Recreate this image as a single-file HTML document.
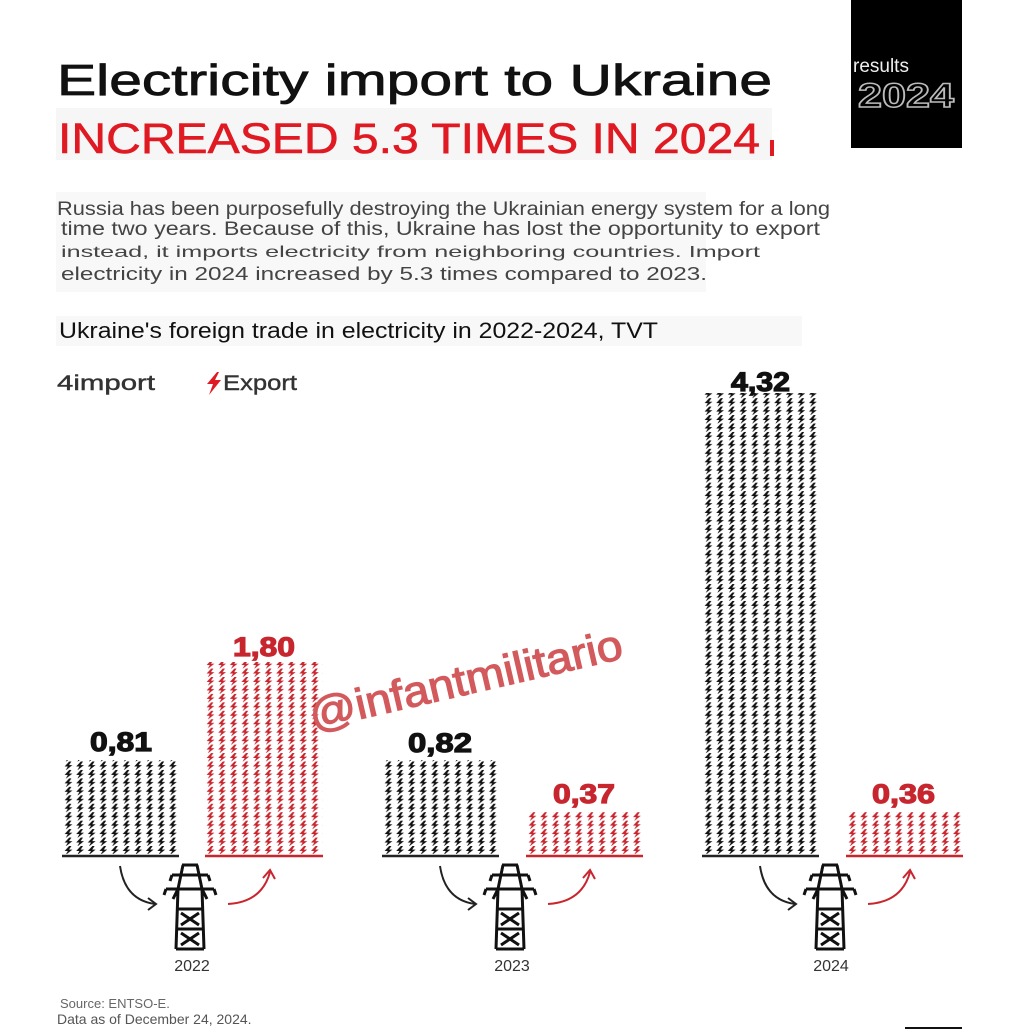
<!DOCTYPE html>
<html><head><meta charset="utf-8"><style>
html,body{margin:0;padding:0;background:#fff;}
svg{display:block;font-family:"Liberation Sans",sans-serif;}
</style></head><body>
<svg width="1024" height="1030" viewBox="0 0 1024 1030" xmlns="http://www.w3.org/2000/svg">
<defs>
<path id="bolt" d="M6.2,0 L1.6,5 L4.8,5 L2.6,9 L9.4,3.6 L6,3.6 L8.4,0 Z"/>
<pattern id="pk" x="63" y="1" width="11.6" height="8.45" patternUnits="userSpaceOnUse"><use href="#bolt" fill="#111"/></pattern>
<pattern id="pr" x="205" y="1" width="11.6" height="8.45" patternUnits="userSpaceOnUse"><use href="#bolt" fill="#c8262e"/></pattern>
<pattern id="pk2" x="383" y="1" width="11.6" height="8.45" patternUnits="userSpaceOnUse"><use href="#bolt" fill="#111"/></pattern>
<pattern id="pk3" x="703" y="1" width="11.6" height="8.45" patternUnits="userSpaceOnUse"><use href="#bolt" fill="#111"/></pattern>
<pattern id="pr2" x="527" y="1" width="11.6" height="8.45" patternUnits="userSpaceOnUse"><use href="#bolt" fill="#c8262e"/></pattern>
<pattern id="pr3" x="847" y="1" width="11.6" height="8.45" patternUnits="userSpaceOnUse"><use href="#bolt" fill="#c8262e"/></pattern>
<g id="tower" fill="none" stroke="#111" stroke-width="3">
<path d="M-8,0 L8,0 M-18,10 L18,10 M-24,24 L24,24 M-7,0 L-12,24 L-14,84 M7,0 L12,24 L14,84 M-12,24 L-17,34 M12,24 L17,34 M-12,24 L12,24 M-13,44 L13,44 M-13,64 L13,64 M-14,84 L14,84 M-9,48 L9,60 M9,48 L-9,60 M-9,68 L9,80 M9,68 L-9,80 M-18,10 L-20,16 M18,10 L20,16 M-24,24 L-26,30 M24,24 L26,30"/>
</g>
</defs>

<rect x="851" y="0" width="111" height="148" fill="#000"/>
<text x="853" y="72" font-size="19" fill="#eee">results</text>
<text x="858" y="107" font-size="34" font-weight="bold" fill="none" stroke="#bbb" stroke-width="1.5" textLength="96" lengthAdjust="spacingAndGlyphs">2024</text>

<text x="57" y="95" font-size="44" fill="#111" stroke="#111" stroke-width="0.8" textLength="715" lengthAdjust="spacingAndGlyphs">Electricity import to Ukraine</text>
<rect x="56" y="108" width="716" height="52" fill="#f6f6f6"/>
<text x="58" y="153" font-size="43" fill="#e01a22" stroke="#e01a22" stroke-width="0.6" textLength="702" lengthAdjust="spacingAndGlyphs">INCREASED 5.3 TIMES IN 2024</text>
<rect x="770" y="140" width="4" height="16" fill="#e01a22"/>

<rect x="56" y="192" width="650" height="100" fill="#f8f8f8"/>
<text x="57" y="215" font-size="19" fill="#444" textLength="773" lengthAdjust="spacingAndGlyphs">Russia has been purposefully destroying the Ukrainian energy system for a long</text>
<text x="61" y="235" font-size="19" fill="#444" textLength="759" lengthAdjust="spacingAndGlyphs">time two years. Because of this, Ukraine has lost the opportunity to export</text>
<text x="61" y="257" font-size="16" fill="#444" textLength="699" lengthAdjust="spacingAndGlyphs">instead, it imports electricity from neighboring countries. Import</text>
<text x="61" y="280" font-size="18" fill="#444" textLength="646" lengthAdjust="spacingAndGlyphs">electricity in 2024 increased by 5.3 times compared to 2023.</text>

<rect x="56" y="316" width="746" height="30" fill="#f8f8f8"/>
<text x="59" y="338" font-size="22" fill="#111" textLength="599" lengthAdjust="spacingAndGlyphs">Ukraine's foreign trade in electricity in 2022-2024, TVT</text>

<text x="57" y="390" font-size="21" fill="#333" stroke="#333" stroke-width="0.4" textLength="98" lengthAdjust="spacingAndGlyphs">4import</text>
<path d="M217,372 L207,384 L213,384 L209,395 L221,380 L215,380 L219,372 Z" fill="#e01a22"/>
<text x="223" y="390" font-size="21" fill="#333" stroke="#333" stroke-width="0.4" textLength="74" lengthAdjust="spacingAndGlyphs">Export</text>

<rect x="63" y="760" width="116" height="94" fill="url(#pk)"/>
<rect x="205" y="662" width="118" height="192" fill="url(#pr)"/>
<rect x="383" y="760" width="116" height="94" fill="url(#pk2)"/>
<rect x="527" y="812" width="116" height="42" fill="url(#pr2)"/>
<rect x="703" y="393" width="116" height="461" fill="url(#pk3)"/>
<rect x="847" y="812" width="116" height="42" fill="url(#pr3)"/>

<g stroke-width="2.5">
<line x1="62" y1="856" x2="179" y2="856" stroke="#222"/>
<line x1="205" y1="856" x2="323" y2="856" stroke="#c8262e"/>
<line x1="382" y1="856" x2="499" y2="856" stroke="#222"/>
<line x1="526" y1="856" x2="643" y2="856" stroke="#c8262e"/>
<line x1="702" y1="856" x2="819" y2="856" stroke="#222"/>
<line x1="846" y1="856" x2="963" y2="856" stroke="#c8262e"/>
</g>

<g font-size="27" font-weight="900" stroke-width="1.2">
<text x="90" y="751" fill="#111" stroke="#111" textLength="62" lengthAdjust="spacingAndGlyphs">0,81</text>
<text x="233" y="656" fill="#c8262e" stroke="#c8262e" textLength="62" lengthAdjust="spacingAndGlyphs">1,80</text>
<text x="408" y="752" fill="#111" stroke="#111" textLength="64" lengthAdjust="spacingAndGlyphs">0,82</text>
<text x="553" y="803" fill="#c8262e" stroke="#c8262e" textLength="62" lengthAdjust="spacingAndGlyphs">0,37</text>
<text x="731" y="391" fill="#111" stroke="#111" textLength="59" lengthAdjust="spacingAndGlyphs">4,32</text>
<text x="872" y="803" fill="#c8262e" stroke="#c8262e" textLength="63" lengthAdjust="spacingAndGlyphs">0,36</text>
</g>

<g>
<use href="#tower" x="190" y="865"/>
<use href="#tower" x="510" y="865"/>
<use href="#tower" x="830" y="865"/>
</g>
<g fill="none" stroke-width="2">
<path d="M120,866 Q125,900 155,904" stroke="#222"/><path d="M148,898 L156,904 L148,910" stroke="#222"/>
<path d="M228,904 Q262,902 270,872" stroke="#c8262e"/><path d="M263,878 L270,870 L275,879" stroke="#c8262e"/>
<path d="M440,866 Q445,900 475,904" stroke="#222"/><path d="M468,898 L476,904 L468,910" stroke="#222"/>
<path d="M548,904 Q582,902 590,872" stroke="#c8262e"/><path d="M583,878 L590,870 L595,879" stroke="#c8262e"/>
<path d="M760,866 Q765,900 795,904" stroke="#222"/><path d="M788,898 L796,904 L788,910" stroke="#222"/>
<path d="M868,904 Q902,902 910,872" stroke="#c8262e"/><path d="M903,878 L910,870 L915,879" stroke="#c8262e"/>
</g>
<g font-size="16" fill="#333" text-anchor="middle">
<text x="192" y="971">2022</text>
<text x="512" y="971">2023</text>
<text x="831" y="971">2024</text>
</g>

<text x="0" y="0" font-size="43" fill="#d35a5c" stroke="#d35a5c" stroke-width="1.2" textLength="320" lengthAdjust="spacingAndGlyphs" transform="translate(313,730) rotate(-13)">@infantmilitario</text>

<text x="60" y="1008" font-size="13" fill="#666">Source: ENTSO-E.</text>
<text x="57" y="1024" font-size="14" fill="#555">Data as of December 24, 2024.</text>
<line x1="905" y1="1028" x2="962" y2="1028" stroke="#111" stroke-width="2"/>
</svg>
</body></html>
